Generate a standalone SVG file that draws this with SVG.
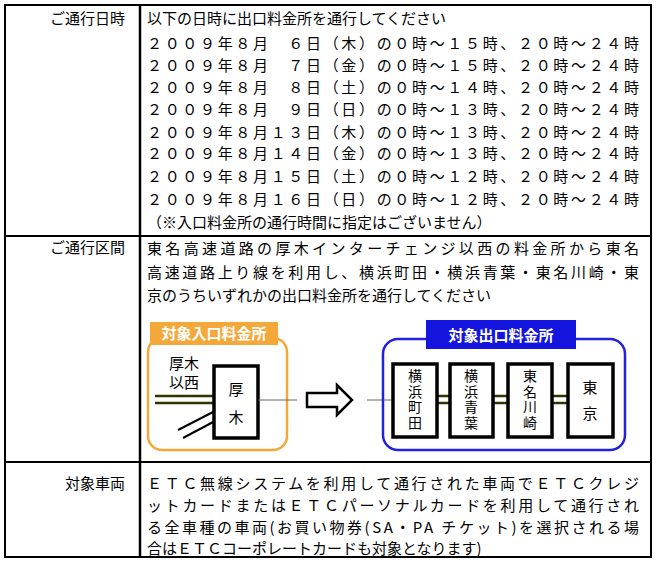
<svg xmlns="http://www.w3.org/2000/svg" width="660" height="562" viewBox="0 0 660 562">
<style>
text{font-family:"Noto Sans CJK JP","Liberation Sans",sans-serif;font-size:15px;fill:#000}
.w{fill:#fff;font-weight:bold;font-size:15px}
.st{fill:#fff;stroke:#000;stroke-width:3.5}
.rd{stroke:#333300;stroke-width:2.5}
.c{text-anchor:middle}
.v{writing-mode:vertical-rl;font-size:14px;letter-spacing:1.5px}
.lbl{text-anchor:end}
</style>
<rect width="660" height="562" fill="#fff"/>
<g id="table" fill="none" stroke="#000">
<rect x="5" y="5" width="646" height="552" stroke-width="2"/>
<line x1="140" y1="5" x2="140" y2="557" stroke-width="2.5"/>
<line x1="5" y1="236" x2="651" y2="236" stroke-width="2"/>
<line x1="5" y1="462" x2="651" y2="462" stroke-width="2"/>
</g>
<g id="labels">
<text x="125" y="24" class="lbl">ご通行日時</text>
<text x="125" y="253" class="lbl">ご通行区間</text>
<text x="125" y="489" class="lbl">対象車両</text>
</g>
<g id="dates">
<text x="147" y="24">以下の日時に出口料金所を通行してください</text>
<text x="147" y="49" textLength="492">２００９年８月　６日（木）の０時～１５時、２０時～２４時</text>
<text x="147" y="71" textLength="492">２００９年８月　７日（金）の０時～１５時、２０時～２４時</text>
<text x="147" y="93" textLength="492">２００９年８月　８日（土）の０時～１４時、２０時～２４時</text>
<text x="147" y="115" textLength="492">２００９年８月　９日（日）の０時～１３時、２０時～２４時</text>
<text x="147" y="138" textLength="492">２００９年８月１３日（木）の０時～１３時、２０時～２４時</text>
<text x="147" y="159" textLength="492">２００９年８月１４日（金）の０時～１３時、２０時～２４時</text>
<text x="147" y="182" textLength="492">２００９年８月１５日（土）の０時～１２時、２０時～２４時</text>
<text x="147" y="205" textLength="492">２００９年８月１６日（日）の０時～１２時、２０時～２４時</text>
<text x="147" y="228">（※入口料金所の通行時間に指定はございません）</text>
</g>
<g id="section">
<text x="147" y="254" textLength="492">東名高速道路の厚木インターチェンジ以西の料金所から東名</text>
<text x="147" y="278" textLength="492">高速道路上り線を利用し、横浜町田・横浜青葉・東名川崎・東</text>
<text x="147" y="301">京のうちいずれかの出口料金所を通行してください</text>
</g>
<g id="entry">
<rect x="148" y="338" width="139" height="112" rx="14" fill="none" stroke="#f5a83a" stroke-width="2.5"/>
<rect x="150" y="322" width="128" height="23" fill="#f5a83a"/>
<text x="214" y="339" class="w c">対象入口料金所</text>
<text x="169" y="369" font-size="14">厚木</text>
<text x="169" y="388" font-size="14">以西</text>
<line x1="155" y1="396" x2="215" y2="396" class="rd"/>
<line x1="155" y1="403" x2="215" y2="403" class="rd"/>
<line x1="178" y1="430" x2="215" y2="411" stroke="#000" stroke-width="2"/>
<line x1="183" y1="438" x2="215" y2="421" stroke="#000" stroke-width="2"/>
<rect x="214" y="366" width="44" height="72" class="st"/>
<text x="236" y="382" class="v" style="font-size:15px;letter-spacing:13px">厚木</text>
</g>
<g id="connectors">
<line x1="258" y1="400" x2="297" y2="400" stroke="#666" stroke-width="1"/>
<path d="M307 393 H337 V385 L352 400 L337 415 V407 H307 Z" fill="#fff" stroke="#000" stroke-width="2.5"/>
<line x1="367" y1="400" x2="395" y2="400" stroke="#666" stroke-width="1"/>
</g>
<g id="exit">
<rect x="383" y="339" width="242" height="111" rx="15" fill="none" stroke="#2222dd" stroke-width="2.5"/>
<rect x="426" y="320" width="150" height="29" fill="#1515e0"/>
<text x="501" y="341" class="w c">対象出口料金所</text>
<line x1="437" y1="396" x2="568" y2="396" class="rd"/>
<line x1="437" y1="403" x2="568" y2="403" class="rd"/>
<g id="yokohamamachida"><rect x="393" y="364" width="44" height="73" class="st"/>
<text x="415" y="369" class="v">横浜町田</text></g>
<g id="yokohamaaoba"><rect x="450" y="364" width="43" height="73" class="st"/>
<text x="471" y="369" class="v">横浜青葉</text></g>
<g id="tomeikawasaki"><rect x="508" y="364" width="44" height="73" class="st"/>
<text x="530" y="369" class="v">東名川崎</text></g>
<g id="tokyo"><rect x="568" y="364" width="45" height="73" class="st"/>
<text x="590" y="380" class="v" style="font-size:15px;letter-spacing:11px">東京</text></g>
</g>
<g id="vehicles">
<text x="147" y="489" textLength="492">ＥＴＣ無線システムを利用して通行された車両でＥＴＣクレジ</text>
<text x="147" y="511" textLength="492">ットカードまたはＥＴＣパーソナルカードを利用して通行され</text>
<text x="147" y="533" textLength="492">る全車種の車両(お買い物券(SA・PA チケット)を選択される場</text>
<text x="147" y="554">合はＥＴＣコーポレートカードも対象となります)</text>
</g>
</svg>
